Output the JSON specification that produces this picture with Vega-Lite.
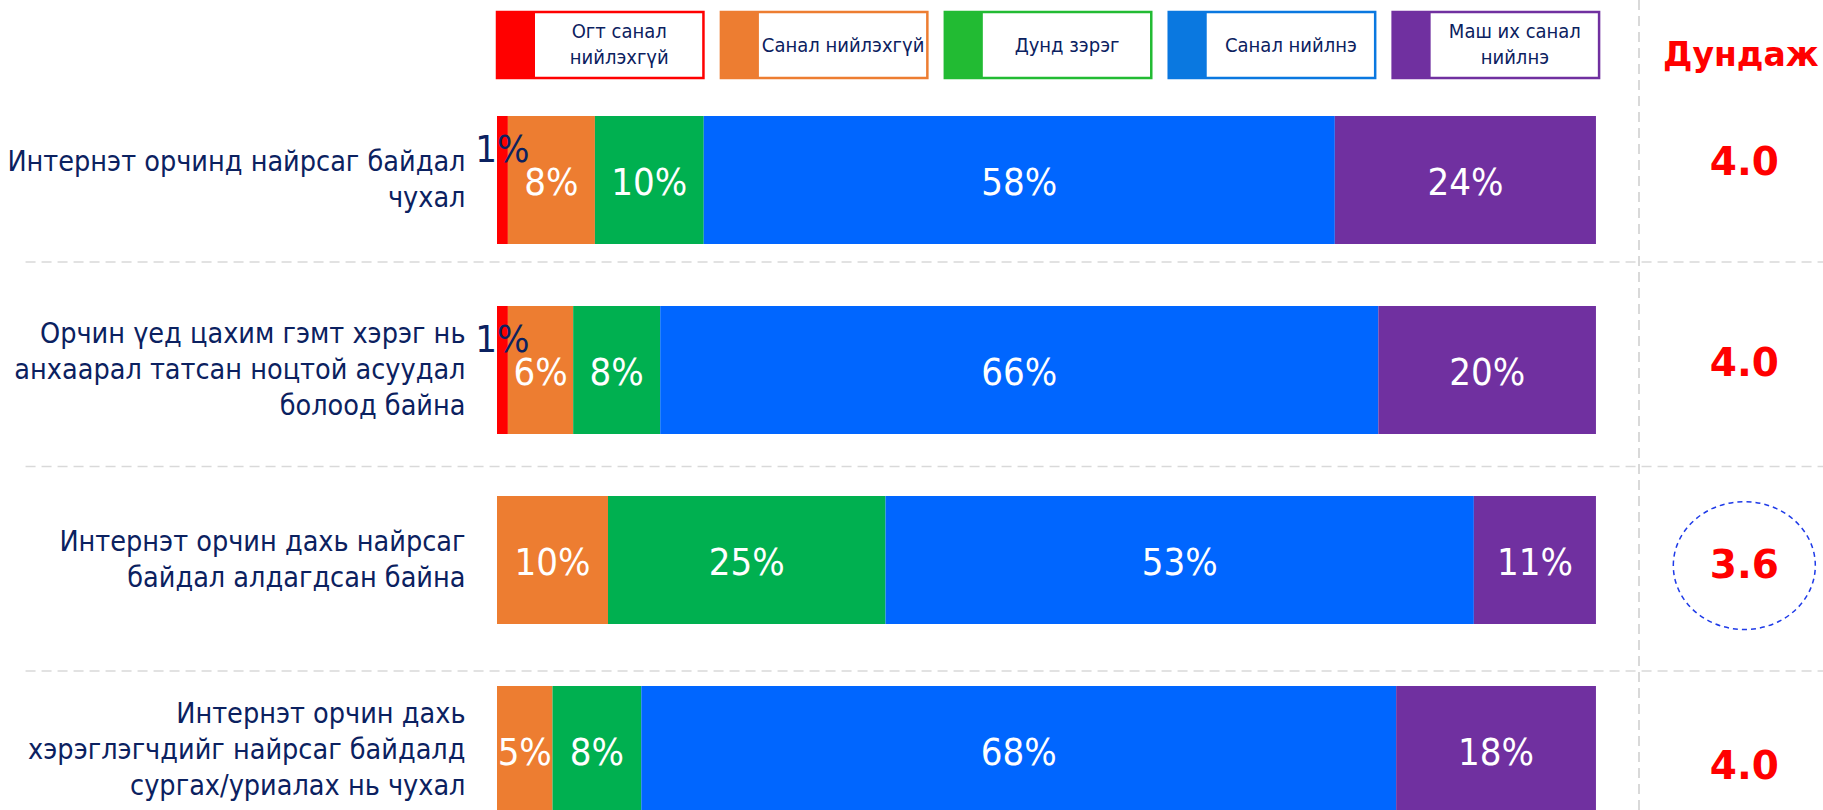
{
  "$schema": "https://vega.github.io/schema/vega-lite/v6.json",
  "width": 1326,
  "height": 814,
  "padding": {"left": 497, "top": 0, "right": 0, "bottom": 0},
  "autosize": {"type": "none"},
  "background": "white",
  "config": {"view": {"stroke": null}, "font": "DejaVu Sans"},
  "datasets": {
    "bars": [
      {"q": "Интернэт орчинд найрсаг байдал\nчухал", "cat": "Огт санал нийлэхгүй", "order": 1, "pct": 1},
      {"q": "Интернэт орчинд найрсаг байдал\nчухал", "cat": "Санал нийлэхгүй", "order": 2, "pct": 8},
      {"q": "Интернэт орчинд найрсаг байдал\nчухал", "cat": "Дунд зэрэг", "order": 3, "pct": 10},
      {"q": "Интернэт орчинд найрсаг байдал\nчухал", "cat": "Санал нийлнэ", "order": 4, "pct": 58},
      {"q": "Интернэт орчинд найрсаг байдал\nчухал", "cat": "Маш их санал нийлнэ", "order": 5, "pct": 24},
      {"q": "Орчин үед цахим гэмт хэрэг нь\nанхаарал татсан ноцтой асуудал\nболоод байна", "cat": "Огт санал нийлэхгүй", "order": 1, "pct": 1},
      {"q": "Орчин үед цахим гэмт хэрэг нь\nанхаарал татсан ноцтой асуудал\nболоод байна", "cat": "Санал нийлэхгүй", "order": 2, "pct": 6},
      {"q": "Орчин үед цахим гэмт хэрэг нь\nанхаарал татсан ноцтой асуудал\nболоод байна", "cat": "Дунд зэрэг", "order": 3, "pct": 8},
      {"q": "Орчин үед цахим гэмт хэрэг нь\nанхаарал татсан ноцтой асуудал\nболоод байна", "cat": "Санал нийлнэ", "order": 4, "pct": 66},
      {"q": "Орчин үед цахим гэмт хэрэг нь\nанхаарал татсан ноцтой асуудал\nболоод байна", "cat": "Маш их санал нийлнэ", "order": 5, "pct": 20},
      {"q": "Интернэт орчин дахь найрсаг\nбайдал алдагдсан байна", "cat": "Санал нийлэхгүй", "order": 2, "pct": 10},
      {"q": "Интернэт орчин дахь найрсаг\nбайдал алдагдсан байна", "cat": "Дунд зэрэг", "order": 3, "pct": 25},
      {"q": "Интернэт орчин дахь найрсаг\nбайдал алдагдсан байна", "cat": "Санал нийлнэ", "order": 4, "pct": 53},
      {"q": "Интернэт орчин дахь найрсаг\nбайдал алдагдсан байна", "cat": "Маш их санал нийлнэ", "order": 5, "pct": 11},
      {"q": "Интернэт орчин дахь\nхэрэглэгчдийг найрсаг байдалд\nсургах/уриалах нь чухал", "cat": "Санал нийлэхгүй", "order": 2, "pct": 5},
      {"q": "Интернэт орчин дахь\nхэрэглэгчдийг найрсаг байдалд\nсургах/уриалах нь чухал", "cat": "Дунд зэрэг", "order": 3, "pct": 8},
      {"q": "Интернэт орчин дахь\nхэрэглэгчдийг найрсаг байдалд\nсургах/уриалах нь чухал", "cat": "Санал нийлнэ", "order": 4, "pct": 68},
      {"q": "Интернэт орчин дахь\nхэрэглэгчдийг найрсаг байдалд\nсургах/уриалах нь чухал", "cat": "Маш их санал нийлнэ", "order": 5, "pct": 18}
    ],
    "avg": [
      {"q": "Интернэт орчинд найрсаг байдал\nчухал", "avg": 4.0},
      {"q": "Орчин үед цахим гэмт хэрэг нь\nанхаарал татсан ноцтой асуудал\nболоод байна", "avg": 4.0},
      {"q": "Интернэт орчин дахь найрсаг\nбайдал алдагдсан байна", "avg": 3.6},
      {"q": "Интернэт орчин дахь\nхэрэглэгчдийг найрсаг байдалд\nсургах/уриалах нь чухал", "avg": 4.0}
    ],
    "legenditems": [
      {"cat": "Огт санал нийлэхгүй", "label": "Огт санал\nнийлэхгүй", "row": "legend"},
      {"cat": "Санал нийлэхгүй", "label": "Санал нийлэхгүй", "row": "legend"},
      {"cat": "Дунд зэрэг", "label": "Дунд зэрэг", "row": "legend"},
      {"cat": "Санал нийлнэ", "label": "Санал нийлнэ", "row": "legend"},
      {"cat": "Маш их санал нийлнэ", "label": "Маш их санал\nнийлнэ", "row": "legend"}
    ],
    "header": [
      {"cat": "Дундаж", "label": "Дундаж", "row": "legend"}
    ]
  },
  "resolve": {"scale": {"x": "independent", "y": "independent", "color": "independent"}},
  "layer": [
    {
      "data": {"name": "legenditems"},
      "mark": {"type": "rect", "color": "white", "strokeWidth": 2.5},
      "encoding": {
        "x": {"field": "cat", "type": "nominal", "axis": null,
          "scale": {"type": "band", "domain": ["Огт санал нийлэхгүй", "Санал нийлэхгүй", "Дунд зэрэг", "Санал нийлнэ", "Маш их санал нийлнэ", "Дундаж"], "paddingInner": 0.078, "paddingOuter": 0}},
        "y": {"field": "row", "type": "nominal", "axis": null,
          "scale": {"type": "band", "domain": ["legend", "_"], "paddingInner": 0.894, "paddingOuter": 0.1, "align": 0.096}},
        "color": {"value": "white"},
        "stroke": {"field": "cat", "type": "nominal", "legend": null,
          "scale": {"domain": ["Огт санал нийлэхгүй", "Санал нийлэхгүй", "Дунд зэрэг", "Санал нийлнэ", "Маш их санал нийлнэ"], "range": ["#FF0000", "#ED7D31", "#22BB33", "#0A78E0", "#7030A0"]}}
      }
    },
    {
      "data": {"name": "legenditems"},
      "mark": {"type": "point", "shape": "M -0.576 -1 H 0.576 V 1 H -0.576 Z", "size": 4356, "filled": true, "opacity": 1, "strokeWidth": 0},
      "encoding": {
        "x": {"field": "cat", "type": "nominal", "axis": null, "bandPosition": 0.092,
          "scale": {"type": "band", "domain": ["Огт санал нийлэхгүй", "Санал нийлэхгүй", "Дунд зэрэг", "Санал нийлнэ", "Маш их санал нийлнэ", "Дундаж"], "paddingInner": 0.078, "paddingOuter": 0}},
        "y": {"field": "row", "type": "nominal", "axis": null,
          "scale": {"type": "band", "domain": ["legend", "_"], "paddingInner": 0.894, "paddingOuter": 0.1, "align": 0.096}},
        "color": {"field": "cat", "type": "nominal", "legend": null,
          "scale": {"domain": ["Огт санал нийлэхгүй", "Санал нийлэхгүй", "Дунд зэрэг", "Санал нийлнэ", "Маш их санал нийлнэ"], "range": ["#FF0000", "#ED7D31", "#22BB33", "#0A78E0", "#7030A0"]}}
      }
    },
    {
      "data": {"name": "legenditems"},
      "transform": [{"filter": "indexof(datum.label, '\\n') < 0"}],
      "mark": {"type": "text", "dx": 19, "dy": 1, "fontSize": 20, "font": "DejaVu Sans Condensed, DejaVu Sans", "color": "#0B2160", "baseline": "middle", "align": "center"},
      "encoding": {
        "x": {"field": "cat", "type": "nominal", "axis": null,
          "scale": {"type": "band", "domain": ["Огт санал нийлэхгүй", "Санал нийлэхгүй", "Дунд зэрэг", "Санал нийлнэ", "Маш их санал нийлнэ", "Дундаж"], "paddingInner": 0.078, "paddingOuter": 0}},
        "y": {"field": "row", "type": "nominal", "axis": null,
          "scale": {"type": "band", "domain": ["legend", "_"], "paddingInner": 0.894, "paddingOuter": 0.1, "align": 0.096}},
        "text": {"field": "label"}
      }
    },
    {
      "data": {"name": "legenditems"},
      "transform": [{"filter": "indexof(datum.label, '\\n') >= 0"}],
      "mark": {"type": "text", "dx": 19, "dy": -13, "fontSize": 20, "font": "DejaVu Sans Condensed, DejaVu Sans", "color": "#0B2160", "lineBreak": "\n", "lineHeight": 26, "baseline": "middle", "align": "center"},
      "encoding": {
        "x": {"field": "cat", "type": "nominal", "axis": null,
          "scale": {"type": "band", "domain": ["Огт санал нийлэхгүй", "Санал нийлэхгүй", "Дунд зэрэг", "Санал нийлнэ", "Маш их санал нийлнэ", "Дундаж"], "paddingInner": 0.078, "paddingOuter": 0}},
        "y": {"field": "row", "type": "nominal", "axis": null,
          "scale": {"type": "band", "domain": ["legend", "_"], "paddingInner": 0.894, "paddingOuter": 0.1, "align": 0.096}},
        "text": {"field": "label"}
      }
    },
    {
      "data": {"name": "header"},
      "mark": {"type": "text", "dx": 21, "dy": 11, "fontSize": 33, "fontWeight": "bold", "color": "#FF0000", "baseline": "middle", "align": "center"},
      "encoding": {
        "x": {"field": "cat", "type": "nominal", "axis": null,
          "scale": {"type": "band", "domain": ["Огт санал нийлэхгүй", "Санал нийлэхгүй", "Дунд зэрэг", "Санал нийлнэ", "Маш их санал нийлнэ", "Дундаж"], "paddingInner": 0.078, "paddingOuter": 0}},
        "y": {"field": "row", "type": "nominal", "axis": null,
          "scale": {"type": "band", "domain": ["legend", "_"], "paddingInner": 0.894, "paddingOuter": 0.1, "align": 0.096}},
        "text": {"field": "label"}
      }
    },
    {
      "data": {"name": "avg"},
      "mark": {"type": "rule", "color": "#D9D9D9", "strokeDash": [10, 6], "strokeWidth": 1.5},
      "encoding": {
        "x": {"datum": 1.039, "type": "quantitative", "axis": null, "scale": {"domain": [0, 1.2066], "nice": false, "zero": false}}
      }
    },
    {
      "data": {"name": "avg"},
      "transform": [{"filter": "indexof(datum.q, 'сургах') < 0"}],
      "mark": {"type": "rule", "color": "#D9D9D9", "strokeDash": [10, 6], "strokeWidth": 1.5},
      "encoding": {
        "y": {"field": "q", "type": "nominal", "axis": null,
          "scale": {"type": "band", "domain": [
            "Интернэт орчинд найрсаг байдал\nчухал",
            "Орчин үед цахим гэмт хэрэг нь\nанхаарал татсан ноцтой асуудал\nболоод байна",
            "Интернэт орчин дахь найрсаг\nбайдал алдагдсан байна"], "paddingInner": 0, "paddingOuter": 0.49, "align": 0.797}},
        "x": {"datum": -0.429, "type": "quantitative", "axis": null, "scale": {"domain": [0, 1.2066], "nice": false, "zero": false}},
        "x2": {"datum": 1.2066}
      }
    },
    {
      "data": {"name": "bars"},
      "transform": [
        {"stack": "pct", "groupby": ["q"], "sort": [{"field": "order", "order": "ascending"}], "offset": "normalize", "as": ["s0", "s1"]}
      ],
      "mark": {"type": "bar"},
      "encoding": {
        "y": {"field": "q", "type": "nominal", "title": null,
          "scale": {"type": "band", "domain": [
            "Интернэт орчинд найрсаг байдал\nчухал",
            "Орчин үед цахим гэмт хэрэг нь\nанхаарал татсан ноцтой асуудал\nболоод байна",
            "Интернэт орчин дахь найрсаг\nбайдал алдагдсан байна",
            "Интернэт орчин дахь\nхэрэглэгчдийг найрсаг байдалд\nсургах/уриалах нь чухал"], "paddingInner": 0.326, "paddingOuter": 0.305, "align": 1},
          "axis": {"orient": "left", "ticks": false, "domain": false, "grid": false, "labelPadding": 32, "labelLimit": 0,
            "labelFont": "DejaVu Sans Condensed, DejaVu Sans", "labelFontSize": 28.5, "labelLineHeight": 36, "labelColor": "#0B2160",
            "labelAlign": "right", "labelBaseline": "middle",
            "labelOffset": {"condition": {"test": "length(split(datum.value, '\\n')) >= 3", "value": -36}, "value": -18},
            "labelExpr": "split(datum.value, '\\n')"}},
        "x": {"field": "s0", "type": "quantitative", "axis": null, "scale": {"domain": [0, 1.2066], "nice": false, "zero": false}},
        "x2": {"field": "s1"},
        "color": {"field": "cat", "type": "nominal", "legend": null,
          "scale": {"domain": ["Огт санал нийлэхгүй", "Санал нийлэхгүй", "Дунд зэрэг", "Санал нийлнэ", "Маш их санал нийлнэ"], "range": ["#FF0000", "#ED7D31", "#00B050", "#0066FF", "#7030A0"]}}
      }
    },
    {
      "data": {"name": "bars"},
      "transform": [
        {"stack": "pct", "groupby": ["q"], "sort": [{"field": "order", "order": "ascending"}], "offset": "normalize", "as": ["s0", "s1"]},
        {"calculate": "(datum.s0 + datum.s1) / 2", "as": "mid"},
        {"calculate": "datum.pct + '%'", "as": "label"},
        {"filter": "datum.order > 1"}
      ],
      "mark": {"type": "text", "fontSize": 38, "font": "DejaVu Sans Condensed, DejaVu Sans", "baseline": "middle", "align": "center", "color": "white", "dy": 4},
      "encoding": {
        "y": {"field": "q", "type": "nominal", "axis": null,
          "scale": {"type": "band", "domain": [
            "Интернэт орчинд найрсаг байдал\nчухал",
            "Орчин үед цахим гэмт хэрэг нь\nанхаарал татсан ноцтой асуудал\nболоод байна",
            "Интернэт орчин дахь найрсаг\nбайдал алдагдсан байна",
            "Интернэт орчин дахь\nхэрэглэгчдийг найрсаг байдалд\nсургах/уриалах нь чухал"], "paddingInner": 0.326, "paddingOuter": 0.305, "align": 1}},
        "x": {"field": "mid", "type": "quantitative", "axis": null, "scale": {"domain": [0, 1.2066], "nice": false, "zero": false}},
        "text": {"field": "label"}
      }
    },
    {
      "data": {"name": "bars"},
      "transform": [
        {"stack": "pct", "groupby": ["q"], "sort": [{"field": "order", "order": "ascending"}], "offset": "normalize", "as": ["s0", "s1"]},
        {"calculate": "(datum.s0 + datum.s1) / 2", "as": "mid"},
        {"calculate": "datum.pct + '%'", "as": "label"},
        {"filter": "datum.order == 1"}
      ],
      "mark": {"type": "text", "fontSize": 38, "font": "DejaVu Sans Condensed, DejaVu Sans", "baseline": "middle", "align": "center", "color": "#0B2160", "dy": -29},
      "encoding": {
        "y": {"field": "q", "type": "nominal", "axis": null,
          "scale": {"type": "band", "domain": [
            "Интернэт орчинд найрсаг байдал\nчухал",
            "Орчин үед цахим гэмт хэрэг нь\nанхаарал татсан ноцтой асуудал\nболоод байна",
            "Интернэт орчин дахь найрсаг\nбайдал алдагдсан байна",
            "Интернэт орчин дахь\nхэрэглэгчдийг найрсаг байдалд\nсургах/уриалах нь чухал"], "paddingInner": 0.326, "paddingOuter": 0.305, "align": 1}},
        "x": {"field": "mid", "type": "quantitative", "axis": null, "scale": {"domain": [0, 1.2066], "nice": false, "zero": false}},
        "text": {"field": "label"}
      }
    },
    {
      "data": {"name": "avg"},
      "mark": {"type": "text", "fontSize": 39, "fontWeight": "bold", "color": "#FF0000", "baseline": "middle", "align": "center"},
      "encoding": {
        "y": {"field": "q", "type": "nominal", "axis": null,
          "scale": {"type": "band", "domain": [
            "Интернэт орчинд найрсаг байдал\nчухал",
            "Орчин үед цахим гэмт хэрэг нь\nанхаарал татсан ноцтой асуудал\nболоод байна",
            "Интернэт орчин дахь найрсаг\nбайдал алдагдсан байна",
            "Интернэт орчин дахь\nхэрэглэгчдийг найрсаг байдалд\nсургах/уриалах нь чухал"], "paddingInner": 0.6, "paddingOuter": 0.322, "align": 0.947}},
        "x": {"datum": 1.135, "type": "quantitative", "axis": null, "scale": {"domain": [0, 1.2066], "nice": false, "zero": false}},
        "text": {"field": "avg", "type": "quantitative", "format": ".1f"}
      }
    },
    {
      "data": {"name": "avg"},
      "transform": [{"filter": "datum.avg < 4"}],
      "mark": {"type": "point", "shape": "M -1 0 A 1 0.9 0 1 1 1 0 A 1 0.9 0 1 1 -1 0 Z", "size": 20164, "filled": false, "stroke": "#1F3BE8", "strokeWidth": 1.5, "strokeDash": [5, 4], "opacity": 1},
      "encoding": {
        "y": {"field": "q", "type": "nominal", "axis": null,
          "scale": {"type": "band", "domain": [
            "Интернэт орчинд найрсаг байдал\nчухал",
            "Орчин үед цахим гэмт хэрэг нь\nанхаарал татсан ноцтой асуудал\nболоод байна",
            "Интернэт орчин дахь найрсаг\nбайдал алдагдсан байна",
            "Интернэт орчин дахь\nхэрэглэгчдийг найрсаг байдалд\nсургах/уриалах нь чухал"], "paddingInner": 0.6, "paddingOuter": 0.322, "align": 0.947}},
        "x": {"datum": 1.135, "type": "quantitative", "axis": null, "scale": {"domain": [0, 1.2066], "nice": false, "zero": false}}
      }
    }
  ]
}
